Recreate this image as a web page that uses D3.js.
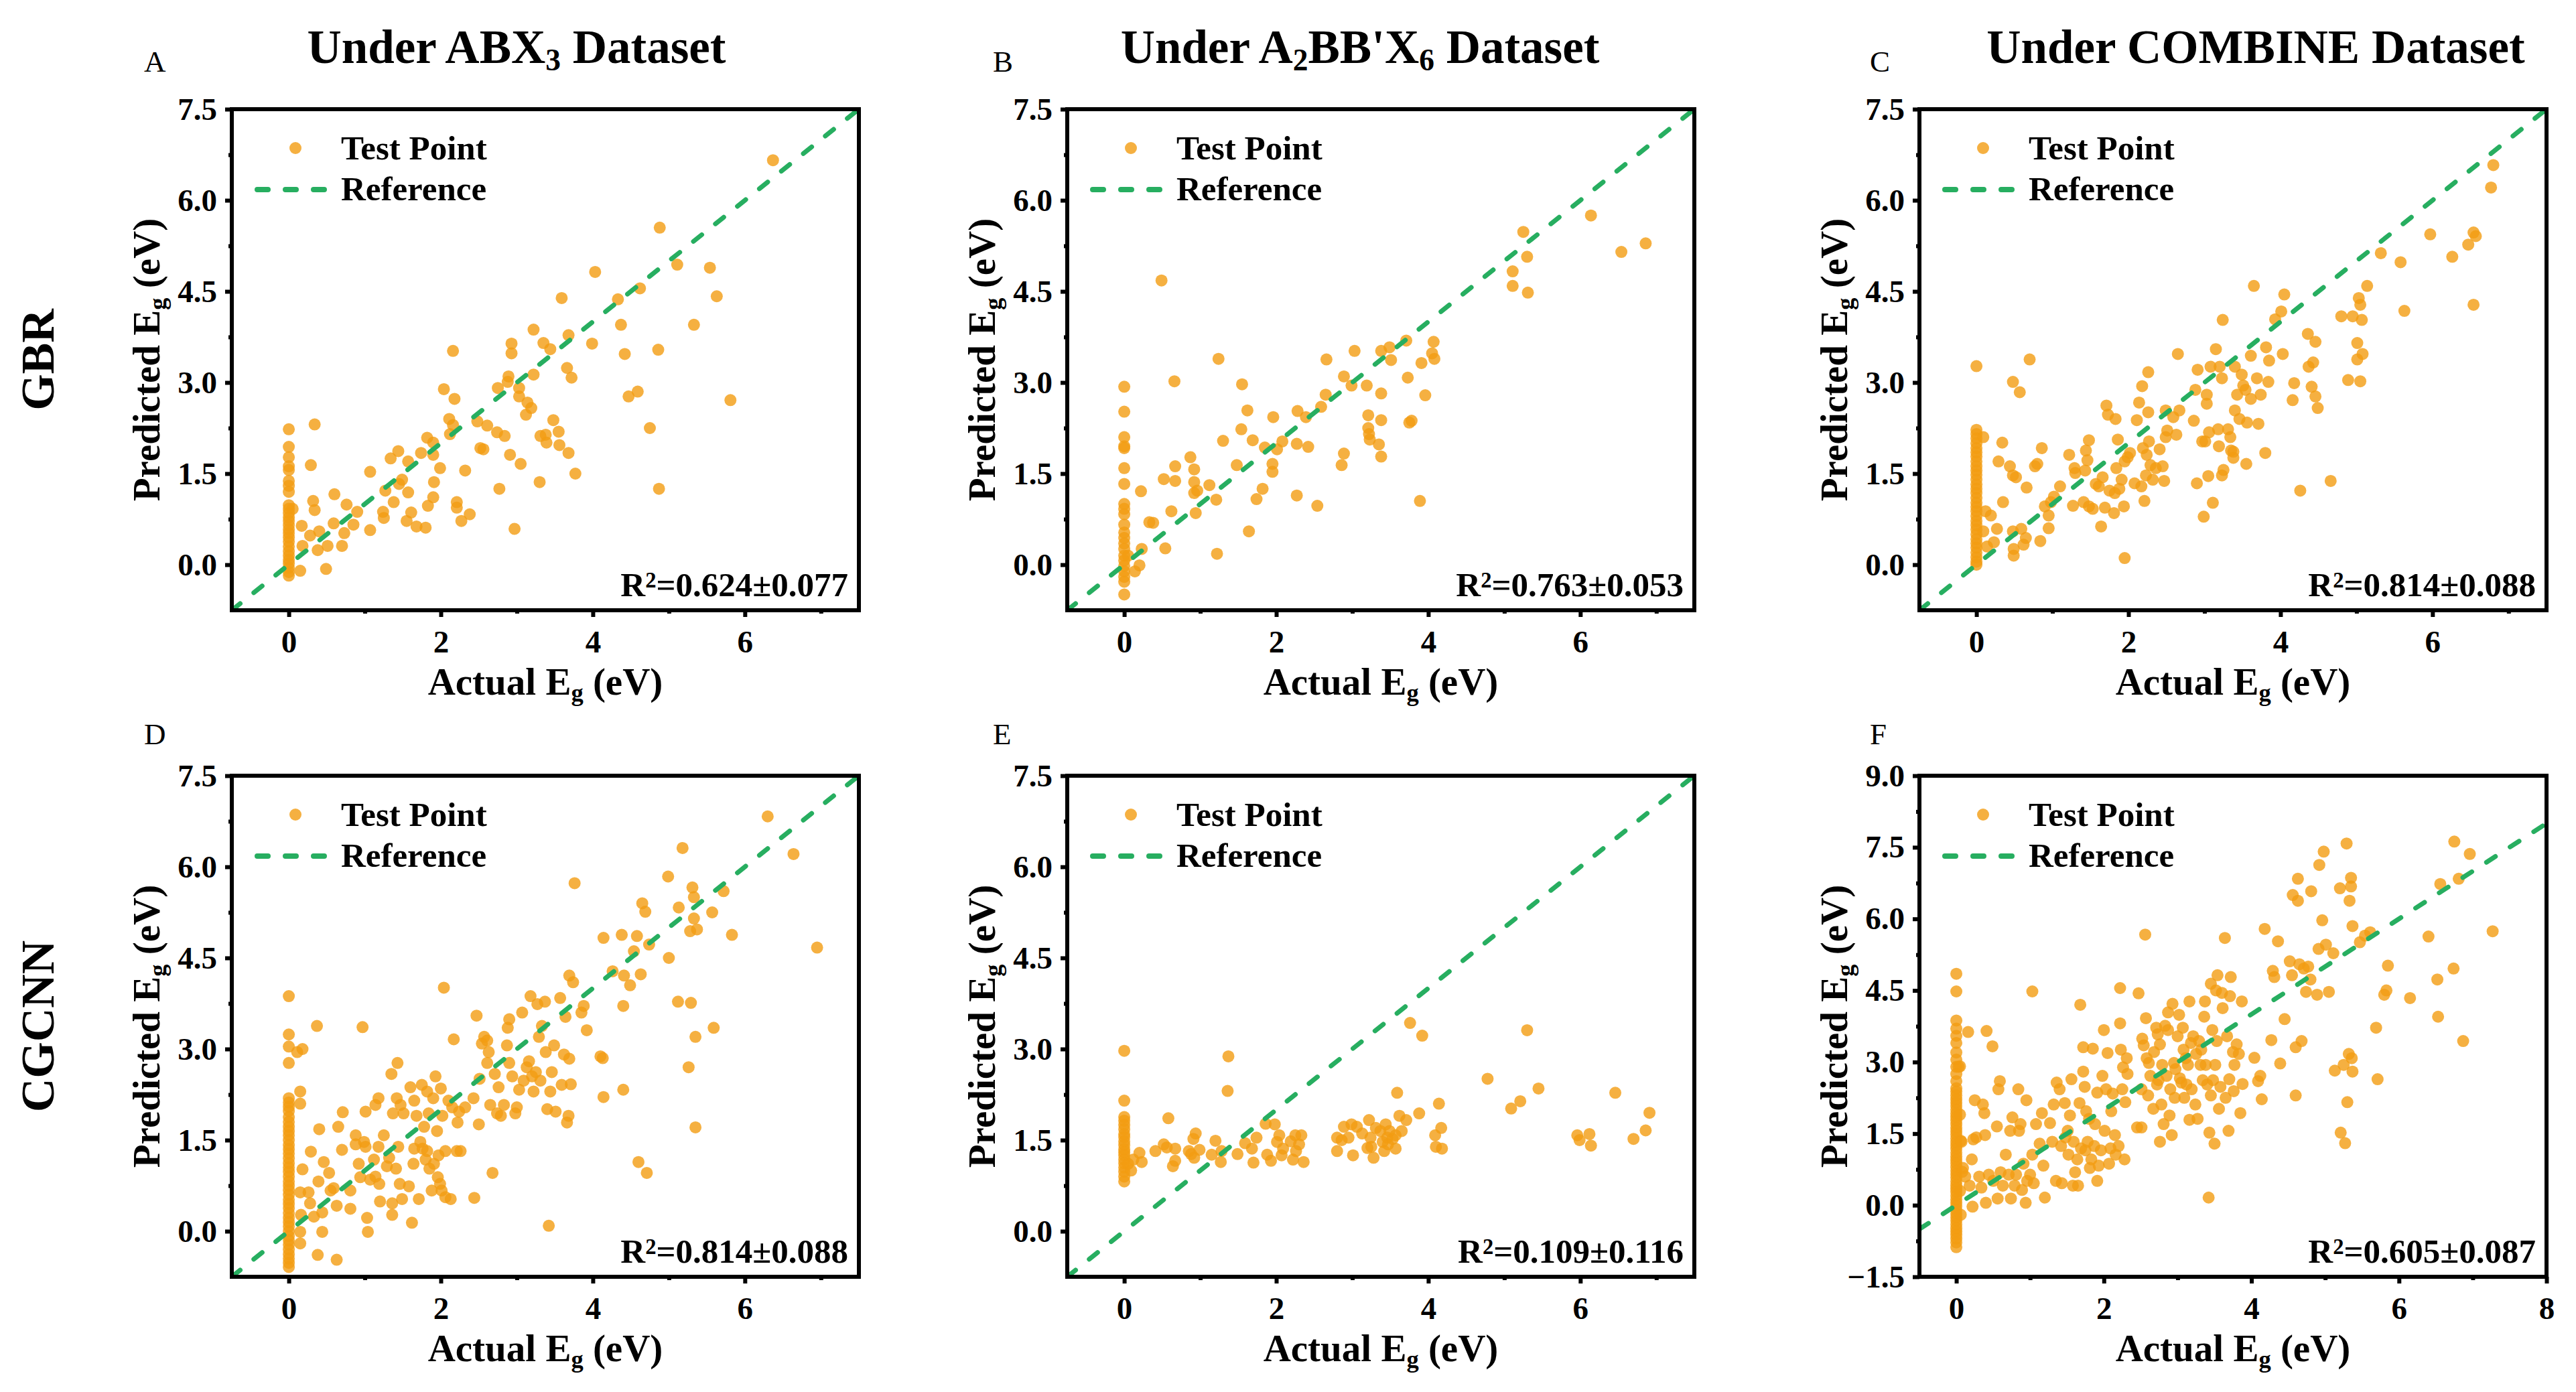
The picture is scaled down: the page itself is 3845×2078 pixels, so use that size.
<!DOCTYPE html><html><head><meta charset="UTF-8"><script src="https://d3js.org/d3.v7.min.js"></script><style>
  body { margin: 0; background: #fff; }
  svg { display: block; font-family: "Liberation Serif", "Times New Roman", serif; }
  .tick text { font-family: "Liberation Serif", "Times New Roman", serif; font-weight: bold; font-size: 47px; fill: #000; }
  .tick line { stroke: #000; stroke-width: 6; }
</style></head><body><div id="chart"></div><script>
// ---- data (Actual Eg, Predicted Eg) ----
const gbrAbx3Zero = [2.23,1.94,1.77,1.62,1.56,1.38,1.30,1.20,0.98,0.92,0.85,0.78,0.72,0.65,0.58,0.52,0.45,0.38,0.30,0.22,0.15,0.08,0.02,-0.05,-0.12,-0.18];
const gbrAbx3 = [[0.05,0.92],[0.17,0.64],[0.15,-0.10],[0.18,0.31],[0.28,0.48],[0.29,1.64],[0.34,2.31],[0.32,1.05],[0.34,0.90],[0.40,0.55],[0.38,0.24],[0.49,-0.07],[0.51,0.31],[0.60,1.16],[0.59,0.68],[0.70,0.31],[0.73,0.52],[0.76,0.99],[0.85,0.66],[0.90,0.87],[1.07,1.53],[1.07,0.57],[1.24,0.87],[1.25,0.77],[1.27,1.22],[1.34,1.75],[1.38,1.03],[1.44,1.87],[1.45,1.33],[1.49,1.40],[1.55,0.72],[1.57,1.19],[1.57,1.70],[1.61,0.86],[1.68,0.63],[1.74,1.84],[1.80,0.61],[1.82,2.09],[1.83,0.97],[1.90,1.11],[1.91,1.36],[1.90,1.81],[1.90,2.01],[1.99,1.59],[2.04,2.89],[2.11,2.40],[2.12,2.15],[2.16,3.52],[2.18,2.73],[2.16,2.30],[2.21,1.03],[2.21,0.94],[2.27,0.72],[2.32,1.55],[2.38,0.83],[2.48,2.36],[2.52,1.92],[2.56,1.90],[2.61,2.29],[2.74,2.18],[2.75,2.91],[2.77,1.25],[2.84,2.12],[2.89,3.10],[2.88,3.01],[2.91,1.81],[2.93,3.64],[2.93,3.48],[2.97,0.59],[3.03,2.91],[3.03,2.77],[3.05,1.66],[3.12,2.47],[3.14,2.67],[3.19,2.58],[3.22,3.87],[3.22,3.13],[3.30,1.36],[3.31,2.12],[3.35,3.65],[3.38,2.14],[3.39,2.01],[3.44,3.55],[3.48,2.38],[3.55,2.19],[3.56,1.97],[3.59,4.39],[3.66,3.24],[3.68,1.84],[3.72,3.08],[3.68,3.78],[3.77,1.50],[3.99,3.64],[4.03,4.82],[4.33,4.37],[4.37,3.95],[4.42,3.47],[4.47,2.77],[4.59,2.85],[4.62,4.55],[4.75,2.25],[4.86,3.54],[4.87,1.25],[4.88,5.55],[5.11,4.94],[5.33,3.95],[5.54,4.89],[5.63,4.42],[5.81,2.71],[6.37,6.66]];

const gbrA2bbZero = [2.93,2.52,2.10,1.95,1.92,1.59,1.33,1.00,0.92,0.83,0.66,0.53,0.44,0.35,0.26,0.15,0.07,-0.02,-0.11,-0.20,-0.28,-0.49];
const gbrA2bb = [[0.05,0.15],[0.14,-0.11],[0.20,-0.01],[0.22,1.21],[0.23,0.26],[0.33,0.70],[0.38,0.69],[0.49,4.68],[0.52,1.41],[0.54,0.27],[0.62,0.88],[0.66,3.02],[0.67,1.62],[0.67,1.38],[0.87,1.77],[0.92,1.57],[0.92,1.36],[0.92,1.18],[0.96,1.22],[0.94,0.85],[1.12,1.31],[1.21,1.07],[1.22,0.18],[1.24,3.39],[1.30,2.04],[1.48,1.64],[1.54,2.23],[1.55,2.97],[1.62,2.54],[1.64,0.55],[1.69,2.05],[1.74,1.08],[1.82,1.25],[1.85,1.93],[1.95,1.66],[1.95,1.53],[1.96,2.43],[2.01,1.90],[2.08,2.03],[2.27,1.99],[2.27,1.14],[2.28,2.53],[2.39,2.43],[2.42,1.94],[2.54,0.97],[2.59,2.60],[2.65,2.80],[2.66,3.38],[2.86,1.64],[2.89,1.83],[2.89,3.10],[2.99,2.95],[3.03,3.52],[3.19,2.95],[3.21,2.46],[3.21,2.25],[3.22,2.15],[3.23,2.06],[3.35,1.98],[3.38,1.78],[3.38,2.82],[3.38,2.38],[3.38,3.52],[3.49,3.58],[3.51,3.37],[3.71,3.69],[3.73,3.08],[3.75,2.34],[3.78,2.37],[3.89,1.05],[3.91,3.32],[3.96,2.79],[4.05,3.48],[4.07,3.67],[4.08,3.39],[5.11,4.83],[5.11,4.59],[5.25,5.48],[5.30,5.07],[5.31,4.48],[6.14,5.75],[6.54,5.15],[6.86,5.29]];

const gbrCombZero = [3.27,2.22,2.15,2.08,2.00,1.92,1.85,1.78,1.70,1.62,1.55,1.48,1.40,1.32,1.25,1.18,1.10,1.02,0.95,0.88,0.80,0.72,0.65,0.58,0.50,0.42,0.35,0.28,0.20,0.12,0.05,0.00];
const gbrComb = [[0.09,2.10],[0.09,0.55],[0.12,0.88],[0.14,0.30],[0.19,0.81],[0.23,0.37],[0.27,0.59],[0.29,1.70],[0.34,2.01],[0.35,1.03],[0.44,1.62],[0.48,1.47],[0.48,3.01],[0.48,0.55],[0.49,0.26],[0.49,0.15],[0.52,1.44],[0.57,2.84],[0.59,0.59],[0.62,0.33],[0.65,0.44],[0.66,1.27],[0.70,3.38],[0.77,1.62],[0.80,1.66],[0.84,0.39],[0.86,1.92],[0.90,0.96],[0.95,0.81],[0.95,0.60],[0.98,1.03],[1.02,1.12],[1.10,1.29],[1.22,1.81],[1.27,0.97],[1.29,1.59],[1.30,1.51],[1.41,1.03],[1.43,1.55],[1.44,1.88],[1.46,1.72],[1.48,2.05],[1.48,0.96],[1.53,0.92],[1.57,1.33],[1.61,1.29],[1.64,0.63],[1.66,1.44],[1.69,0.94],[1.71,2.62],[1.73,2.47],[1.75,1.22],[1.81,0.85],[1.82,1.18],[1.83,2.40],[1.84,1.59],[1.86,2.06],[1.88,1.25],[1.91,1.40],[1.94,0.96],[1.95,1.70],[1.95,0.11],[1.99,1.77],[2.02,1.84],[2.08,1.34],[2.11,2.38],[2.14,2.67],[2.17,1.29],[2.18,2.94],[2.19,1.92],[2.21,1.05],[2.23,1.47],[2.24,1.81],[2.26,3.17],[2.26,2.51],[2.27,2.03],[2.29,1.64],[2.32,1.40],[2.36,1.59],[2.41,1.90],[2.45,1.62],[2.47,1.38],[2.49,2.10],[2.49,2.54],[2.51,2.21],[2.59,2.43],[2.63,2.14],[2.65,3.47],[2.67,2.54],[2.86,2.37],[2.88,2.88],[2.90,1.34],[2.91,3.21],[2.97,2.03],[2.99,0.79],[3.01,2.03],[3.03,2.80],[3.03,2.65],[3.05,1.46],[3.06,2.18],[3.08,3.26],[3.11,1.02],[3.15,3.55],[3.18,2.23],[3.19,1.95],[3.20,3.26],[3.23,3.07],[3.23,1.47],[3.24,4.03],[3.25,1.56],[3.31,2.23],[3.34,2.10],[3.35,1.88],[3.38,1.86],[3.38,1.76],[3.40,2.54],[3.40,3.26],[3.43,2.80],[3.46,2.40],[3.49,3.13],[3.51,2.95],[3.54,2.88],[3.55,1.66],[3.56,2.34],[3.61,3.44],[3.61,2.73],[3.65,4.59],[3.69,3.07],[3.71,2.32],[3.74,2.80],[3.80,1.84],[3.81,3.58],[3.84,3.01],[3.85,3.36],[3.93,4.04],[4.01,4.17],[4.03,3.47],[4.05,4.45],[4.16,2.71],[4.18,2.99],[4.26,1.22],[4.36,3.80],[4.37,3.26],[4.41,2.93],[4.43,3.33],[4.46,3.67],[4.46,2.77],[4.49,2.58],[4.66,1.38],[4.80,4.09],[4.89,3.04],[4.95,4.09],[5.01,3.65],[5.01,3.38],[5.03,4.39],[5.05,4.28],[5.05,3.02],[5.07,4.03],[5.08,3.47],[5.14,4.59],[5.32,5.13],[5.58,4.98],[5.63,4.18],[5.97,5.44],[6.26,5.07],[6.47,5.27],[6.54,5.47],[6.57,5.41],[6.54,4.28],[6.77,6.21],[6.80,6.58]];

const cgcAbx3Zero = [3.87,3.24,3.04,2.77,2.19,2.12,2.05,1.98,1.88,1.80,1.72,1.65,1.58,1.50,1.42,1.35,1.28,1.20,1.12,1.05,0.98,0.90,0.82,0.75,0.68,0.60,0.52,0.45,0.38,0.30,0.22,0.15,0.08,0.00,-0.08,-0.15,-0.22,-0.30,-0.38,-0.45,-0.52,-0.59];
const cgcAbx3 = [[0.11,2.95],[0.18,3.00],[0.15,2.30],[0.15,2.10],[0.18,1.02],[0.15,0.64],[0.16,0.27],[0.15,-0.01],[0.15,-0.20],[0.29,1.31],[0.26,0.64],[0.28,0.46],[0.33,0.24],[0.37,3.38],[0.38,-0.39],[0.40,1.68],[0.39,0.82],[0.44,-0.01],[0.46,1.14],[0.44,0.31],[0.53,0.96],[0.55,0.67],[0.59,0.71],[0.63,-0.47],[0.65,1.72],[0.63,0.42],[0.70,1.34],[0.71,1.96],[0.81,0.67],[0.81,0.37],[0.88,1.58],[0.88,1.43],[0.92,1.11],[0.94,0.89],[0.97,3.36],[0.99,1.47],[1.01,1.39],[1.01,1.97],[1.03,0.22],[1.04,-0.01],[1.07,0.85],[1.12,1.18],[1.14,2.08],[1.14,0.90],[1.18,2.19],[1.18,1.39],[1.19,0.78],[1.20,0.49],[1.25,1.58],[1.29,1.07],[1.32,1.21],[1.35,2.59],[1.36,0.46],[1.36,0.27],[1.37,1.94],[1.41,1.03],[1.42,2.19],[1.43,2.77],[1.44,1.39],[1.46,0.78],[1.47,2.08],[1.49,0.53],[1.51,1.94],[1.58,0.74],[1.60,2.37],[1.62,0.14],[1.64,1.11],[1.65,2.15],[1.65,1.36],[1.68,1.90],[1.71,0.53],[1.73,1.47],[1.75,2.41],[1.76,1.36],[1.78,1.72],[1.80,1.18],[1.82,2.30],[1.82,1.32],[1.84,1.94],[1.85,1.03],[1.88,0.67],[1.90,2.19],[1.91,1.11],[1.93,2.55],[1.95,1.65],[1.96,0.89],[1.97,1.25],[1.99,0.78],[2.00,2.35],[2.01,0.67],[2.02,1.90],[2.04,4.01],[2.06,1.32],[2.06,0.56],[2.10,2.15],[2.13,0.53],[2.15,2.04],[2.17,3.16],[2.21,1.32],[2.22,1.79],[2.24,1.97],[2.26,1.32],[2.32,2.04],[2.43,2.19],[2.44,0.55],[2.47,3.55],[2.50,1.76],[2.51,2.51],[2.54,3.09],[2.57,3.20],[2.61,3.14],[2.61,2.77],[2.63,2.95],[2.65,2.08],[2.68,0.96],[2.71,2.59],[2.74,1.94],[2.76,2.37],[2.79,1.90],[2.83,2.08],[2.87,3.06],[2.88,3.35],[2.90,3.49],[2.90,2.77],[2.94,2.55],[2.98,1.94],[3.00,2.04],[3.03,2.33],[3.07,3.60],[3.09,2.48],[3.13,2.70],[3.16,2.80],[3.18,3.87],[3.20,2.55],[3.22,2.30],[3.25,2.62],[3.27,3.74],[3.29,3.20],[3.31,2.48],[3.33,3.38],[3.37,3.78],[3.38,2.95],[3.40,2.01],[3.42,0.09],[3.44,2.30],[3.46,2.62],[3.49,3.06],[3.51,1.97],[3.57,3.84],[3.59,2.41],[3.62,2.91],[3.64,3.53],[3.66,1.79],[3.68,1.90],[3.69,4.21],[3.69,2.84],[3.71,2.42],[3.74,4.10],[3.76,5.73],[3.85,3.60],[3.88,3.71],[3.92,3.31],[4.10,2.88],[4.13,2.85],[4.14,4.83],[4.14,2.21],[4.26,4.28],[4.38,4.88],[4.40,3.71],[4.40,2.33],[4.41,4.21],[4.49,4.05],[4.54,4.61],[4.58,4.86],[4.60,1.14],[4.63,4.23],[4.65,5.40],[4.69,5.26],[4.71,0.96],[4.74,4.72],[4.99,5.84],[5.00,4.50],[5.12,3.78],[5.13,5.33],[5.18,6.31],[5.26,2.70],[5.28,4.94],[5.29,3.76],[5.31,5.66],[5.33,5.50],[5.33,5.15],[5.35,3.20],[5.35,1.71],[5.37,4.97],[5.57,5.25],[5.59,3.35],[5.72,5.60],[5.83,4.88],[6.30,6.83],[6.64,6.21],[6.95,4.67]];

const cgcA2bbZero = [2.97,2.15,1.88,1.82,1.75,1.68,1.60,1.55,1.48,1.42,1.35,1.30,1.25,1.18,1.12,1.05,0.98,0.90,0.82];
const cgcA2bb = [[0.05,1.11],[0.09,1.00],[0.12,1.18],[0.20,1.29],[0.23,1.14],[0.41,1.32],[0.52,1.43],[0.56,1.38],[0.58,1.86],[0.64,1.07],[0.67,1.16],[0.67,1.36],[0.85,1.32],[0.88,1.27],[0.91,1.52],[0.94,1.61],[0.92,1.21],[0.99,1.34],[1.15,1.26],[1.20,1.49],[1.27,1.14],[1.28,1.32],[1.36,2.31],[1.37,2.88],[1.49,1.27],[1.59,1.45],[1.68,1.36],[1.70,1.13],[1.74,1.54],[1.86,1.77],[1.88,1.26],[1.93,1.16],[1.98,1.76],[2.01,1.47],[2.04,1.58],[2.07,1.25],[2.09,1.36],[2.19,1.48],[2.22,1.18],[2.25,1.58],[2.26,1.32],[2.30,1.43],[2.33,1.58],[2.36,1.14],[2.80,1.54],[2.80,1.32],[2.86,1.50],[2.89,1.72],[2.95,1.54],[2.99,1.76],[3.01,1.25],[3.06,1.72],[3.13,1.61],[3.22,1.83],[3.24,1.54],[3.20,1.37],[3.25,1.39],[3.28,1.21],[3.31,1.70],[3.37,1.65],[3.40,1.47],[3.42,1.32],[3.44,1.76],[3.46,1.54],[3.47,1.43],[3.49,1.65],[3.53,1.52],[3.57,1.36],[3.57,1.58],[3.59,2.28],[3.62,1.90],[3.65,1.65],[3.71,1.83],[3.76,3.43],[3.88,1.94],[3.92,3.22],[4.09,1.58],[4.10,1.39],[4.14,2.10],[4.17,1.70],[4.18,1.36],[4.78,2.51],[5.09,2.02],[5.21,2.14],[5.30,3.31],[5.45,2.35],[5.96,1.58],[5.99,1.50],[6.12,1.60],[6.14,1.41],[6.46,2.28],[6.70,1.52],[6.86,1.66],[6.91,1.95]];

const cgcCombZero = [4.85,4.48,3.87,3.70,3.55,3.40,3.20,3.05,2.90,2.75,2.60,2.45,2.38,2.30,2.22,2.15,2.08,2.00,1.92,1.85,1.78,1.70,1.62,1.55,1.48,1.40,1.32,1.25,1.18,1.10,1.02,0.95,0.88,0.80,0.72,0.65,0.58,0.50,0.42,0.35,0.28,0.20,0.12,0.05,-0.02,-0.10,-0.18,-0.25,-0.32,-0.40,-0.48,-0.55,-0.62,-0.70,-0.78,-0.88];
const cgcComb = [[0.03,2.90],[0.05,1.90],[0.06,1.35],[0.08,0.70],[0.05,0.30],[0.06,-0.20],[0.05,2.91],[0.07,1.33],[0.09,0.78],[0.12,0.60],[0.16,3.63],[0.18,0.41],[0.21,0.96],[0.23,1.38],[0.25,2.20],[0.22,-0.03],[0.27,1.42],[0.31,0.60],[0.34,0.37],[0.36,2.11],[0.38,1.93],[0.39,1.47],[0.40,0.05],[0.41,3.65],[0.44,0.64],[0.49,3.33],[0.50,0.51],[0.55,1.65],[0.56,0.14],[0.57,2.43],[0.59,2.60],[0.60,0.69],[0.63,0.41],[0.67,1.06],[0.71,0.64],[0.73,1.56],[0.74,0.14],[0.76,1.84],[0.79,0.41],[0.81,0.64],[0.84,2.43],[0.85,1.56],[0.87,1.70],[0.89,0.32],[0.91,0.87],[0.94,0.05],[0.95,2.20],[0.96,0.51],[1.00,0.64],[1.03,4.48],[1.03,1.06],[1.05,0.46],[1.08,1.70],[1.13,1.29],[1.16,1.93],[1.18,0.83],[1.20,0.16],[1.27,1.72],[1.30,1.33],[1.32,2.11],[1.35,0.51],[1.36,2.57],[1.40,2.43],[1.42,1.24],[1.43,0.46],[1.47,2.14],[1.48,1.42],[1.51,1.56],[1.52,1.06],[1.54,1.88],[1.56,2.64],[1.58,0.41],[1.59,1.33],[1.61,0.69],[1.64,0.96],[1.65,0.41],[1.67,2.14],[1.68,4.20],[1.69,1.19],[1.72,3.31],[1.72,2.80],[1.74,2.48],[1.75,1.15],[1.76,1.97],[1.78,1.33],[1.80,1.81],[1.81,0.78],[1.83,0.96],[1.85,3.28],[1.87,1.24],[1.88,1.70],[1.91,0.51],[1.91,2.36],[1.93,0.83],[1.96,1.15],[1.98,2.71],[2.00,3.67],[2.01,1.56],[2.03,2.43],[2.05,3.19],[2.07,0.87],[2.09,1.19],[2.10,1.97],[2.12,2.34],[2.15,1.47],[2.16,1.06],[2.20,1.24],[2.22,3.81],[2.22,4.55],[2.23,3.26],[2.25,2.43],[2.26,2.89],[2.28,0.96],[2.29,2.16],[2.31,3.08],[2.32,2.75],[2.45,1.63],[2.47,4.44],[2.51,1.63],[2.51,2.43],[2.52,3.49],[2.54,3.35],[2.56,5.67],[2.57,3.92],[2.58,3.08],[2.60,2.30],[2.61,2.98],[2.63,2.71],[2.67,2.02],[2.68,3.21],[2.71,3.72],[2.72,2.53],[2.73,3.58],[2.74,2.62],[2.76,1.33],[2.76,3.37],[2.78,2.11],[2.79,2.94],[2.81,1.70],[2.83,3.76],[2.85,2.71],[2.87,4.04],[2.87,3.67],[2.89,1.88],[2.90,2.43],[2.92,1.47],[2.93,4.22],[2.95,2.98],[2.96,2.25],[2.97,2.85],[3.00,3.54],[3.02,3.99],[3.03,2.66],[3.05,2.57],[3.07,3.72],[3.08,3.26],[3.09,2.25],[3.11,3.08],[3.12,2.53],[3.14,2.94],[3.16,4.27],[3.16,1.79],[3.18,3.40],[3.19,2.43],[3.21,3.54],[3.24,2.11],[3.25,3.17],[3.27,1.81],[3.29,3.44],[3.31,2.94],[3.32,3.26],[3.34,2.62],[3.36,3.95],[3.37,4.27],[3.38,2.94],[3.40,2.53],[3.42,0.16],[3.43,1.52],[3.45,4.64],[3.45,2.30],[3.47,3.67],[3.48,2.62],[3.50,1.29],[3.51,2.94],[3.52,4.50],[3.53,3.44],[3.54,4.82],[3.56,2.02],[3.58,2.48],[3.60,4.45],[3.61,4.13],[3.64,5.60],[3.65,2.25],[3.67,3.54],[3.69,1.56],[3.70,2.64],[3.71,4.38],[3.72,4.78],[3.75,3.21],[3.76,2.39],[3.77,2.94],[3.80,3.37],[3.83,3.17],[3.85,1.93],[3.87,4.27],[3.88,2.54],[4.04,3.09],[4.09,2.60],[4.12,2.71],[4.14,2.22],[4.18,5.79],[4.27,3.46],[4.29,4.91],[4.31,4.78],[4.36,5.53],[4.39,2.97],[4.45,3.90],[4.52,5.11],[4.55,4.82],[4.56,6.50],[4.60,3.31],[4.60,2.30],[4.63,6.84],[4.63,6.38],[4.65,5.05],[4.68,3.44],[4.71,4.96],[4.74,4.47],[4.77,5.00],[4.80,4.73],[4.81,6.58],[4.89,4.41],[4.91,5.37],[4.92,7.13],[4.96,5.97],[4.98,7.41],[5.01,5.46],[5.05,4.47],[5.11,5.28],[5.13,2.82],[5.20,6.64],[5.21,1.52],[5.25,2.94],[5.27,1.30],[5.29,7.58],[5.30,2.16],[5.32,3.17],[5.33,6.38],[5.35,6.86],[5.35,6.68],[5.36,3.08],[5.37,2.80],[5.37,5.85],[5.47,5.51],[5.54,5.65],[5.61,5.72],[5.69,3.72],[5.71,2.64],[5.80,4.41],[5.83,4.50],[5.85,5.02],[6.15,4.34],[6.40,5.63],[6.52,4.73],[6.53,3.95],[6.56,6.73],[6.74,4.96],[6.75,7.62],[6.81,6.84],[6.87,3.44],[6.96,7.36],[7.27,5.74]];

const r2Labels = ["0.624±0.077", "0.763±0.053", "0.814±0.088", "0.814±0.088", "0.109±0.116", "0.605±0.087"];
const panelLetters = ["A", "B", "C", "D", "E", "F"];
const rowNames = ["GBR", "CGCNN"];
const xTicksStd = [0, 2, 4, 6];
const xTicksF = [0, 2, 4, 6, 8];
const yTicksStd = [0, 1.5, 3, 4.5, 6, 7.5];
const yTicksF = [-1.5, 0, 1.5, 3, 4.5, 6, 7.5, 9];

// ---- layout ----
const W = 3845, H = 2078;
const colX = [346, 1593, 2865], rowY = [163, 1158];
const pw = 936, ph = 748;
const letterX = [215, 1482, 2791];
const titleX = [771, 2030, 3367];
const FONT = '"Liberation Serif", "Times New Roman", serif';
const ORANGE = '#F39C12', GREEN = '#27AE60';

const panels = [
  {zero: gbrAbx3Zero, pts: gbrAbx3},
  {zero: gbrA2bbZero, pts: gbrA2bb},
  {zero: gbrCombZero, pts: gbrComb},
  {zero: cgcAbx3Zero, pts: cgcAbx3},
  {zero: cgcA2bbZero, pts: cgcA2bb},
  {zero: cgcCombZero, pts: cgcComb, xDom: [-0.5, 8], yDom: [-1.5, 9], xTicks: xTicksF, yTicks: yTicksF}
];

const svg = d3.select('#chart').append('svg')
  .attr('width', W).attr('height', H)
  .attr('font-family', FONT);

// column titles
const titles = [
  [['Under ABX', 0], ['3', 'sub'], [' Dataset', 0]],
  [['Under A', 0], ['2', 'sub'], ["BB'X", 0], ['6', 'sub'], [' Dataset', 0]],
  [['Under COMBINE Dataset', 0]]
];
function richText(sel, parts) {
  parts.forEach(([t, s]) => {
    const sp = sel.append('tspan').text(t);
    if (s) sp.attr('baseline-shift', s === 'sub' ? '-25%' : '38%').attr('font-size', '64%');
  });
}
titles.forEach((parts, i) => {
  const t = svg.append('text').attr('x', titleX[i]).attr('y', 94)
    .attr('text-anchor', 'middle').attr('font-weight', 'bold').attr('font-size', 71);
  richText(t, parts);
});

// row labels
rowNames.forEach((name, r) => {
  svg.append('text')
    .attr('transform', `translate(80,${rowY[r] + ph / 2}) rotate(-90)`)
    .attr('text-anchor', 'middle').attr('font-weight', 'bold').attr('font-size', 70)
    .text(name);
});

panels.forEach((p, i) => {
  const col = i % 3, row = Math.floor(i / 3);
  const x0 = colX[col], y0 = rowY[row];
  const xDom = p.xDom || [-0.75, 7.5], yDom = p.yDom || [-0.75, 7.5];
  const xTicks = p.xTicks || xTicksStd, yTicks = p.yTicks || yTicksStd;

  const x = d3.scaleLinear().domain(xDom).range([0, pw]);
  const y = d3.scaleLinear().domain(yDom).range([ph, 0]);
  const g = svg.append('g').attr('transform', `translate(${x0},${y0})`);

  const clipId = 'clip' + i;
  g.append('clipPath').attr('id', clipId).append('rect').attr('width', pw).attr('height', ph);

  // panel letter
  svg.append('text').attr('x', letterX[col]).attr('y', row === 0 ? 107 : 1111)
    .attr('font-size', 45).text(panelLetters[i]);

  // points
  const data = p.zero.map(v => [0, v]).concat(p.pts);
  g.append('g').attr('clip-path', `url(#${clipId})`)
    .selectAll('circle').data(data).enter().append('circle')
    .attr('cx', d => x(d[0])).attr('cy', d => y(d[1])).attr('r', 9)
    .attr('fill', ORANGE).attr('fill-opacity', 0.8);

  // reference y = x
  const lo = Math.max(xDom[0], yDom[0]), hi = Math.min(xDom[1], yDom[1]);
  g.append('line').attr('clip-path', `url(#${clipId})`)
    .attr('x1', x(lo)).attr('y1', y(lo)).attr('x2', x(hi)).attr('y2', y(hi))
    .attr('stroke', GREEN).attr('stroke-width', 7)
    .attr('stroke-dasharray', '16 26').attr('stroke-linecap', 'round');

  // axes: major + minor ticks
  const xMinor = d3.range(Math.ceil(xDom[0]), xDom[1] + 1e-9, 1).filter(v => !xTicks.includes(v));
  const yMinor = d3.range(yTicks[0] - 0.75, yDom[1], 1.5).filter(v => v > yDom[0] && v < yDom[1]);
  const fmtY = d3.format('.1f');

  const gx = g.append('g').attr('transform', `translate(0,${ph})`)
    .call(d3.axisBottom(x).tickValues(xTicks).tickSize(10).tickPadding(20).tickFormat(d3.format('d')));
  const gxm = g.append('g').attr('transform', `translate(0,${ph})`)
    .call(d3.axisBottom(x).tickValues(xMinor).tickSize(5).tickFormat(''));
  const gy = g.append('g')
    .call(d3.axisLeft(y).tickValues(yTicks).tickSize(10).tickPadding(12).tickFormat(fmtY));
  const gym = g.append('g')
    .call(d3.axisLeft(y).tickValues(yMinor).tickSize(5).tickFormat(''));
  [gx, gxm, gy, gym].forEach(a => a.select('.domain').remove());

  // frame
  g.append('rect').attr('width', pw).attr('height', ph)
    .attr('fill', 'none').attr('stroke', '#000').attr('stroke-width', 6);

  // axis titles
  const xt = g.append('text').attr('x', pw / 2).attr('y', ph + 126)
    .attr('text-anchor', 'middle').attr('font-weight', 'bold').attr('font-size', 57);
  richText(xt, [['Actual E', 0], ['g', 'sub'], [' (eV)', 0]]);
  const yt = g.append('text')
    .attr('transform', `translate(-108,${ph / 2}) rotate(-90)`)
    .attr('text-anchor', 'middle').attr('font-weight', 'bold').attr('font-size', 57);
  richText(yt, [['Predicted E', 0], ['g', 'sub'], [' (eV)', 0]]);

  // legend
  const lg = g.append('g').attr('font-weight', 'bold').attr('font-size', 51);
  lg.append('circle').attr('cx', 95).attr('cy', 58).attr('r', 9)
    .attr('fill', ORANGE).attr('fill-opacity', 0.8);
  lg.append('line').attr('x1', 38).attr('x2', 140).attr('y1', 120).attr('y2', 120)
    .attr('stroke', GREEN).attr('stroke-width', 8)
    .attr('stroke-dasharray', '16 26').attr('stroke-linecap', 'round');
  lg.append('text').attr('x', 163).attr('y', 75).text('Test Point');
  lg.append('text').attr('x', 163).attr('y', 136).text('Reference');

  // R² annotation
  const rt = g.append('text').attr('x', pw - 16).attr('y', ph - 21)
    .attr('text-anchor', 'end').attr('font-weight', 'bold').attr('font-size', 51);
  richText(rt, [['R', 0], ['2', 'super'], ['=' + r2Labels[i], 0]]);
});
</script></body></html>
